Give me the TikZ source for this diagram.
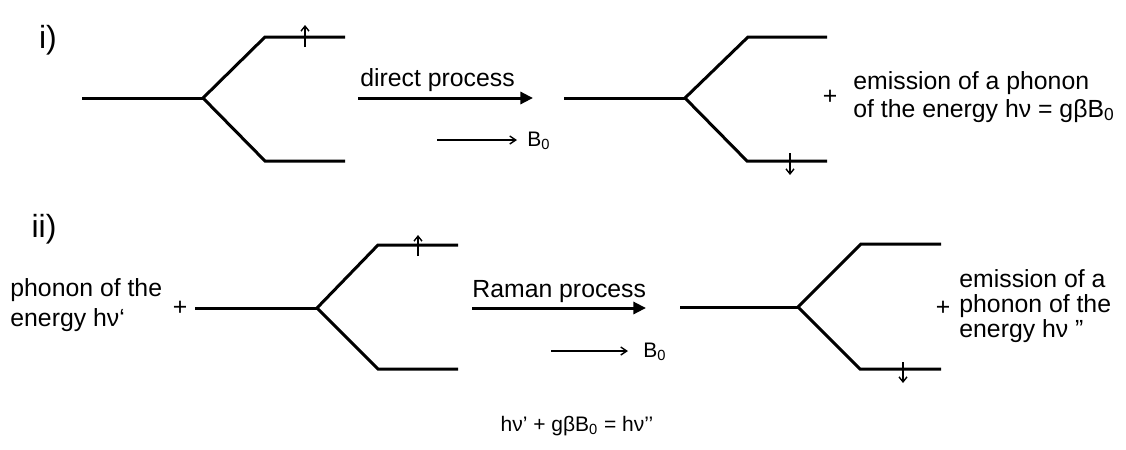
\documentclass[tikz,border=0pt]{standalone}
\usepackage{fontspec}
\setmainfont{Liberation Sans}
\usetikzlibrary{arrows.meta}

\begin{document}
\begin{tikzpicture}[x=0.5pt,y=-0.5pt,
  level/.style={line width=1.5pt},
  spin/.style={line width=0.7pt,-{Straight Barb[length=2.5pt,width=4pt]}},
  field/.style={line width=0.7pt,-{Straight Barb[length=3pt,width=4pt]}},
  process/.style={line width=1.5pt,-{Triangle[length=6.3pt,width=6pt]}},
  lbl/.style={font=\fontsize{12.4}{13.7}\selectfont,inner sep=0pt},
  small/.style={font=\fontsize{10.5}{12}\selectfont,inner sep=0pt},
  part/.style={font=\fontsize{16}{18}\selectfont,inner sep=0pt}]
  \useasboundingbox (0,0) rectangle (1126,450);

  % i) direct process
  \node[part] (i) at (48,40) {i)};
  \coordinate (a0) at (82,98);  \coordinate (a1) at (203,98);
  \coordinate (a2) at (265,37); \coordinate (a3) at (345,37);
  \coordinate (a4) at (265,161); \coordinate (a5) at (345,161);
  \draw[level] (a0) -- (a1);
  \draw[level] (a3) -- (a2) -- (a1) -- (a4) -- (a5);
  \draw[spin] (305,47) -- (305,25);

  \node[lbl,anchor=base west] (dp) at (360,86) {direct process};
  \coordinate (dps) at (358,98); \coordinate (dpe) at (533,98);
  \draw[process] (dps) -- (dpe);
  \coordinate (f1s) at (437,140);
  \node[small,anchor=base west] (B1) at (527,146) {B\textsubscript{0}};
  \draw[field] (f1s) -- (517,140);

  \coordinate (b0) at (564,98);  \coordinate (b1) at (685,98);
  \coordinate (b2) at (748,37);  \coordinate (b3) at (827,37);
  \coordinate (b4) at (747,161); \coordinate (b5) at (827,161);
  \draw[level] (b0) -- (b1);
  \draw[level] (b3) -- (b2) -- (b1) -- (b4) -- (b5);
  \draw[spin] (790,153) -- (790,175);
  \node[lbl] (plus1) at (830,97) {+};
  \node[lbl,anchor=west,align=left] (em1) at (853,97)
    {emission of a phonon\\of the energy hν = gβB\textsubscript{0}};

  % ii) Raman process
  \node[part] (ii) at (44,229) {ii)};
  \node[lbl,anchor=west,align=left,font=\fontsize{12.4}{14.8}\selectfont] (ph) at (10,305)
    {phonon of the\\energy hν‘};
  \node[lbl] (plus2) at (180,308) {+};
  \coordinate (c0) at (195,308); \coordinate (c1) at (317,308);
  \coordinate (c2) at (378,245); \coordinate (c3) at (458,245);
  \coordinate (c4) at (378,369); \coordinate (c5) at (458,369);
  \draw[level] (c0) -- (c1);
  \draw[level] (c3) -- (c2) -- (c1) -- (c4) -- (c5);
  \draw[spin] (418,256) -- (418,235);

  \node[lbl,anchor=base west] (rp) at (472,297) {Raman process};
  \coordinate (rps) at (472,308); \coordinate (rpe) at (646,308);
  \draw[process] (rps) -- (rpe);
  \coordinate (f2s) at (551,351);
  \node[small,anchor=base west] (B2) at (643,357) {B\textsubscript{0}};
  \draw[field] (f2s) -- (628,351);

  \coordinate (d0) at (680,307); \coordinate (d1) at (798,307);
  \coordinate (d2) at (861,244); \coordinate (d3) at (941,244);
  \coordinate (d4) at (860,369); \coordinate (d5) at (941,369);
  \draw[level] (d0) -- (d1);
  \draw[level] (d3) -- (d2) -- (d1) -- (d4) -- (d5);
  \draw[spin] (903,362) -- (903,383);
  \node[lbl] (plus3) at (943,308) {+};
  \node[lbl,anchor=west,align=left,font=\fontsize{12.4}{12.6}\selectfont] (em2) at (959,306)
    {emission of a\\phonon of the\\energy hν ”};

  \node[small] (eq) at (577,426) {hν’ + gβB\textsubscript{0} = hν’’};
\end{tikzpicture}
\end{document}
